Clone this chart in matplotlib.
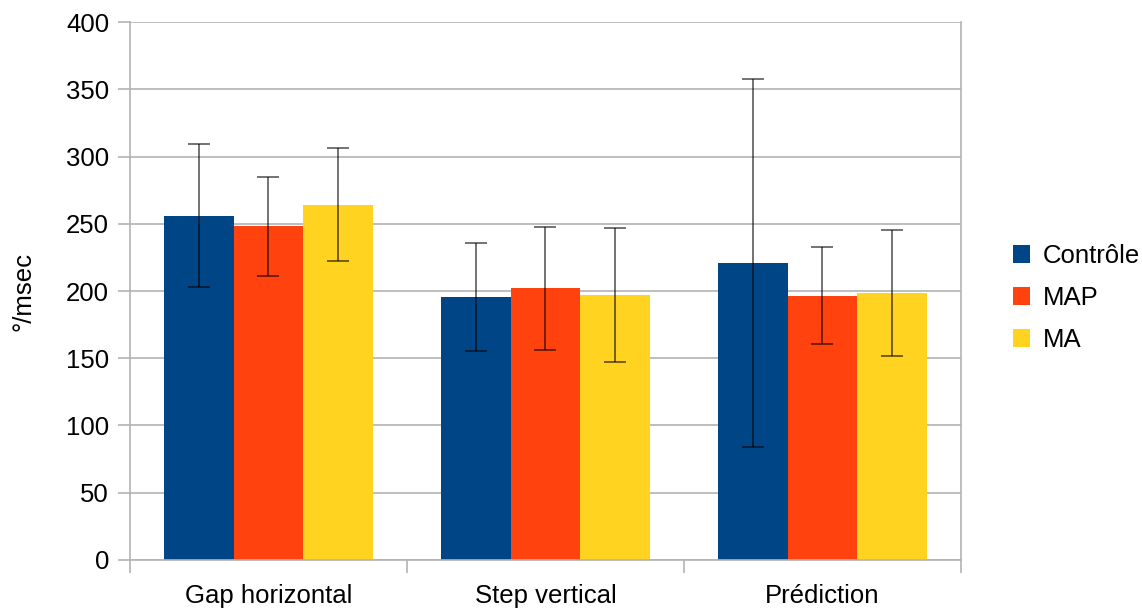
import numpy as np
import matplotlib.pyplot as plt
from matplotlib.ticker import FixedLocator

plt.rcParams['font.family'] = ['Liberation Sans', 'DejaVu Sans']

# data
categories = ["Gap horizontal", "Step vertical", "Prédiction"]
series = ["Contrôle", "MAP", "MA"]
controle = [256, 195.5, 221]
map_vals = [248, 202, 196.5]
ma_vals = [264, 197, 198.5]
controle_err = [53, 40, 137]
map_err = [36.5, 45.5, 36]
ma_err = [42, 50, 47]

colors = ["#004586", "#ff420e", "#ffd320"]
grid_col = "#b3b3b3"

fig = plt.figure(figsize=(11.42, 6.13), dpi=100)
ax = fig.add_axes([0.1138, 0.0865, 0.8415 - 0.1138, 0.964 - 0.0865])

x = np.arange(len(categories))
w = 0.251
values = [controle, map_vals, ma_vals]
errs = [controle_err, map_err, ma_err]
for i in range(len(series)):
    ax.bar(x + (i - 1) * w, values[i], w, color=colors[i], label=series[i], zorder=2)
    ax.errorbar(x + (i - 1) * w, values[i], yerr=errs[i], fmt='none', ecolor=(0, 0, 0, 0.55),
                elinewidth=1.4, capsize=8, capthick=1.4, zorder=3)

ax.set_xlim(-0.5, 2.5)
ax.set_ylim(0, 400)
ax.set_yticks(np.arange(0, 401, 50))
ax.yaxis.grid(True, color=grid_col, linewidth=1.2, zorder=0)
ax.set_axisbelow(True)

ax.set_xticks(x)
ax.set_xticklabels(categories, fontsize=18.5)
ax.xaxis.set_minor_locator(FixedLocator([-0.5, 0.5, 1.5, 2.5]))
ax.tick_params(axis='x', which='major', length=0, pad=17)
ax.tick_params(axis='x', which='minor', length=9, color=grid_col, width=1.2)
ax.tick_params(axis='y', length=9, color=grid_col, width=1.2, labelsize=18.5, pad=6)

for s in ['left', 'bottom', 'right']:
    ax.spines[s].set_color(grid_col)
    ax.spines[s].set_linewidth(1.2)
ax.spines['top'].set_visible(False)

ax.set_ylabel("°/msec", fontsize=18.5, labelpad=22)

ax.legend(loc='center left', bbox_to_anchor=(1.035, 0.487), frameon=False, fontsize=18.5,
          handlelength=0.65, handleheight=0.65, handletextpad=0.5, labelspacing=0.7)

plt.savefig("out.png", dpi=100)
